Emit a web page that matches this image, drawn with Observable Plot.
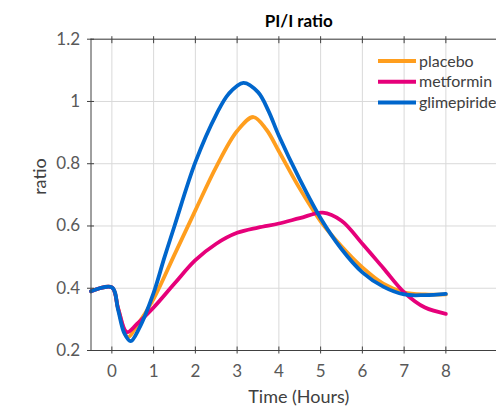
<!DOCTYPE html>
<html><head><meta charset="utf-8">
<script src="https://cdn.jsdelivr.net/npm/d3@7"></script>
<script src="https://cdn.jsdelivr.net/npm/@observablehq/plot@0.6"></script>
<style>body{margin:0;background:#fff;} svg{display:block;}</style>
</head><body><div id="chart"></div>
<script>
const title = "PI/I ratio";
const xLabel = "Time (Hours)";
const yLabel = "ratio";
const seriesNames = ["placebo", "metformin", "glimepiride"];
const seriesColors = ["#FF9E1E", "#E6007A", "#0066CC"];
const xTicks = [0, 1, 2, 3, 4, 5, 6, 7, 8];
const yTicks = [0.2, 0.4, 0.6, 0.8, 1.0, 1.2];

const placeboTime  = [-0.5, 0, 0.15, 0.38, 0.6, 1.0, 1.5, 2.0, 2.5, 3.0, 3.39, 3.7, 4.0, 4.5, 5.0, 5.5, 6.0, 6.5, 7.0, 7.5, 8.0];
const placeboRatio = [0.390, 0.403, 0.335, 0.243, 0.28, 0.366, 0.508, 0.65, 0.79, 0.905, 0.950, 0.91, 0.84, 0.72, 0.615, 0.535, 0.467, 0.415, 0.387, 0.380, 0.380];

const metforminTime  = [-0.5, 0, 0.15, 0.36, 0.6, 1.0, 1.5, 2.0, 2.5, 3.0, 3.5, 4.0, 4.5, 5.05, 5.5, 6.0, 6.5, 7.0, 7.5, 8.0];
const metforminRatio = [0.390, 0.403, 0.335, 0.259, 0.285, 0.338, 0.415, 0.49, 0.543, 0.578, 0.595, 0.608, 0.625, 0.643, 0.617, 0.543, 0.465, 0.387, 0.338, 0.318];

const glimepirideTime  = [-0.5, 0, 0.15, 0.3, 0.45, 0.65, 1.0, 1.25, 1.5, 2.0, 2.5, 2.8, 3.15, 3.5, 3.75, 4.0, 4.5, 5.0, 5.5, 6.0, 6.5, 7.0, 7.5, 8.0];
const glimepirideRatio = [0.390, 0.403, 0.33, 0.255, 0.23, 0.27, 0.385, 0.495, 0.60, 0.805, 0.958, 1.025, 1.06, 1.03, 0.97, 0.89, 0.75, 0.625, 0.526, 0.451, 0.405, 0.380, 0.378, 0.382];

const rows = [];
[[placeboTime, placeboRatio], [metforminTime, metforminRatio], [glimepirideTime, glimepirideRatio]].forEach(([t, v], i) => {
  t.forEach((x, j) => rows.push({series: seriesNames[i], time: x, ratio: v[j]}));
});

const axisColor = "#404040";
const textColor = "#595959";
const noText = () => "";

const legend = () => {
  const g = d3.create("svg:g").attr("font-family", "Lato").attr("font-size", 16).attr("text-anchor", "start");
  seriesNames.forEach((n, i) => {
    const y = 61 + i * 20.8;
    g.append("line").attr("x1", 378).attr("x2", 416).attr("y1", y).attr("y2", y)
      .attr("stroke", seriesColors[i]).attr("stroke-width", 4);
    g.append("text").attr("x", 419).attr("y", y).attr("dy", "0.35em")
      .attr("text-anchor", "start").attr("fill", axisColor).text(n);
  });
  return g.node();
};

const chart = Plot.plot({
  width: 496,
  height: 407,
  marginLeft: 90.5,
  marginRight: 0,
  marginTop: 38.7,
  marginBottom: 57,
  style: {fontFamily: "Lato", fontSize: "17px", color: textColor, background: "#fff"},
  x: {domain: [-0.5, 9.213]},
  y: {domain: [0.2, 1.2]},
  color: {domain: seriesNames, range: seriesColors},
  marks: [
    Plot.gridX(xTicks, {stroke: "#d9d9d9", strokeOpacity: 1}),
    Plot.gridY(yTicks, {stroke: "#d9d9d9", strokeOpacity: 1}),
    Plot.line(rows, {x: "time", y: "ratio", z: "series", stroke: "series", strokeWidth: 3.8, curve: "catmull-rom"}),
    Plot.ruleY([0.2, 1.2], {stroke: axisColor}),
    Plot.ruleX([-0.5], {stroke: axisColor}),
    Plot.axisX(xTicks, {anchor: "bottom", tickSize: 7, dy: -3.5, tickFormat: noText, label: null, stroke: axisColor}),
    Plot.axisX(xTicks, {anchor: "top", tickSize: 7, dy: 3.5, tickFormat: noText, label: null, stroke: axisColor}),
    Plot.axisY(yTicks, {anchor: "left", tickSize: 7, dx: 3.5, tickFormat: noText, label: null, stroke: axisColor}),
    Plot.axisX(xTicks, {anchor: "bottom", tickSize: 0, tickPadding: 14, label: null, fill: textColor, fontSize: 17}),
    Plot.axisY(yTicks, {anchor: "left", tickSize: 0, tickPadding: 11, label: null, fill: textColor, fontSize: 17, tickFormat: d => String(+d.toFixed(1))}),
    Plot.text([title], {text: d => d, frameAnchor: "top", dx: 5, dy: -18, lineAnchor: "middle", fontWeight: "bold", fontSize: 17, fill: "#000"}),
    Plot.text([yLabel], {text: d => d, frameAnchor: "left", dx: -51, rotate: -90, fontSize: 18, fill: axisColor}),
    Plot.text([xLabel], {text: d => d, frameAnchor: "bottom", dx: 5, dy: 47, lineAnchor: "middle", fontSize: 18, fill: axisColor}),
    legend
  ]
});
document.getElementById("chart").appendChild(chart);
</script>
</body></html>
